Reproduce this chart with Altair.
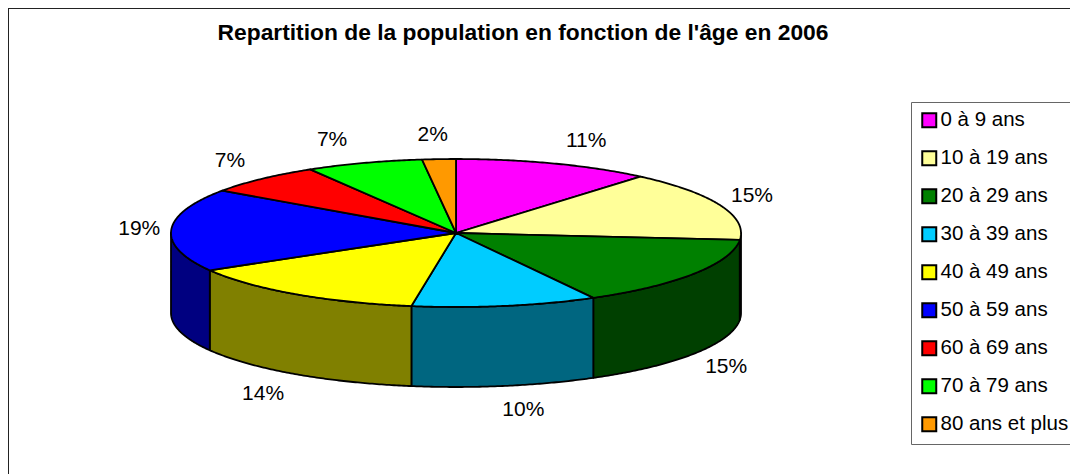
import math
import altair as alt
import pandas as pd

categories = ["0 à 9 ans", "10 à 19 ans", "20 à 29 ans", "30 à 39 ans", "40 à 49 ans",
              "50 à 59 ans", "60 à 69 ans", "70 à 79 ans", "80 ans et plus"]
values = [11.2, 15.3, 15.5, 10.5, 14.1, 18.1, 6.75, 6.65, 1.9]
labels = ["11%", "15%", "15%", "10%", "14%", "19%", "7%", "7%", "2%"]
top_colors = ["#FF00FF", "#FFFF99", "#008000", "#00CCFF", "#FFFF00",
              "#0000FF", "#FF0000", "#00FF00", "#FF9900"]
wall_colors = ["#800080", "#80804D", "#004000", "#006680", "#808000",
               "#000080", "#800000", "#008000", "#804D00"]

FONT = "Liberation Sans"
W, H = 1062, 466
RADIUS = 285          # pixels per data unit
TILT = 74 / RADIUS
DEPTH = 80 / RADIUS


def rim(deg):
    a = math.radians(deg)
    return [math.sin(a), math.cos(a) * TILT]


tops, walls, text_rows = [], [], []
start = 0.0
for cat, val, lab, wc in zip(categories, values, labels, wall_colors):
    a0, a1 = start * 3.6, (start + val) * 3.6
    n = max(2, int(a1 - a0) * 2)
    arc = [rim(a0 + (a1 - a0) * i / n) for i in range(n + 1)]
    ring = [[0, 0]] + arc + [[0, 0]]
    tops.append({"type": "Feature", "properties": {"cat": cat},
                 "geometry": {"type": "Polygon", "coordinates": [ring]}})
    w0, w1 = max(a0, 90), min(a1, 270)
    if w1 > w0:
        m = max(2, int(w1 - w0) * 2)
        upper = [rim(w0 + (w1 - w0) * i / m) for i in range(m + 1)]
        lower = [[x, y - DEPTH] for x, y in reversed(upper)]
        walls.append({"type": "Feature", "properties": {"wall": wc},
                      "geometry": {"type": "Polygon",
                                   "coordinates": [upper + lower + [upper[0]]]}})
    mid = math.radians((a0 + a1) / 2)
    s, c = math.sin(mid), math.cos(mid)
    gap = 32 / RADIUS * min(1, abs(s) / 0.3)
    text_rows.append({
        "label": lab,
        "lon": s + math.copysign(gap, s),
        "lat": 98 / RADIUS * c - (DEPTH if c < 0 else 0),
    })
    start += val

projection = dict(type="identity", reflectY=True, scale=RADIUS, translate=[448, 225])

wall_layer = alt.Chart(alt.Data(values=walls)).mark_geoshape(
    stroke="black", strokeWidth=1.8, strokeJoin="round"
).encode(fill=alt.Fill("properties.wall:N", scale=None)).project(**projection)

top_layer = alt.Chart(alt.Data(values=tops)).mark_geoshape(
    stroke="black", strokeWidth=1.8, strokeJoin="round"
).encode(
    color=alt.Color(
        "properties.cat:N",
        scale=alt.Scale(domain=categories, range=top_colors),
        sort=categories,
        legend=alt.Legend(
            title=None, orient="none", legendX=903, legendY=94,
            symbolType="square", symbolSize=196, symbolStrokeWidth=2,
            symbolStrokeColor="black", symbolOpacity=1,
            labelFont=FONT, labelFontSize=20.5, labelColor="black", labelLimit=200,
            labelOffset=1, rowPadding=15, padding=8,
            strokeColor="#666666", fillColor="white",
        ),
    )
).project(**projection)

text_layer = alt.Chart(pd.DataFrame(text_rows)).mark_text(
    font=FONT, fontSize=21, color="black", baseline="middle", align="center"
).encode(longitude="lon:Q", latitude="lat:Q", text="label:N").project(**projection)

frame_left = alt.Chart(pd.DataFrame({"a": [0]})).mark_rule(color="#222222", strokeWidth=2).encode(
    x=alt.value(0), y=alt.value(0), y2=alt.value(H))
frame_top = alt.Chart(pd.DataFrame({"a": [0]})).mark_rule(color="#222222", strokeWidth=2).encode(
    y=alt.value(0), x=alt.value(0), x2=alt.value(W))

chart = alt.layer(frame_left, frame_top, wall_layer, top_layer, text_layer).properties(
    width=W, height=H, padding=0, autosize=alt.AutoSizeParams(type="none"),
    background="white",
    title=alt.TitleParams(
        "Repartition de la population en fonction de l'âge en 2006",
        font=FONT, fontSize=22.8, fontWeight="bold", color="black",
        anchor="middle", dx=-16, dy=38, offset=0,
    ),
).configure_view(stroke=None)

chart.save("out.html", embed_options={"renderer": "svg", "actions": False})
